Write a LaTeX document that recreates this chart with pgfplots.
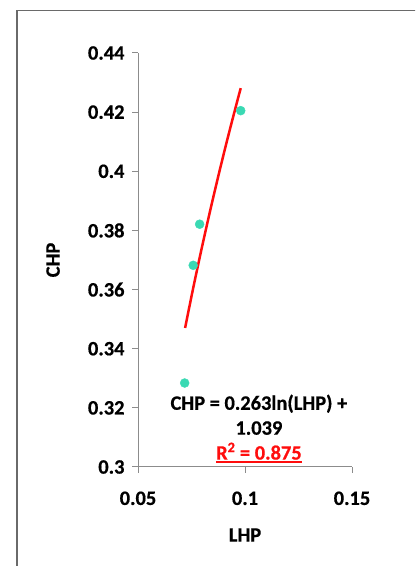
\documentclass[border=0pt]{standalone}
\usepackage{fontspec}
\setmainfont{Carlito}[BoldFeatures={FakeBold=0.6}]
\usepackage{pgfplots}
\pgfplotsset{compat=1.18}
\definecolor{framegray}{HTML}{6A6A6A}
\definecolor{axisgray}{HTML}{8C8C8C}
\definecolor{pointteal}{HTML}{3AD9B3}
\definecolor{trendred}{HTML}{FF0D0D}
\newcommand\chartfont{\fontsize{20.5}{25}\selectfont\bfseries}
\newcommand\redline[1]{\setbox0\hbox{#1}\rlap{\raisebox{-3.5bp}{\rule{\wd0}{1.6bp}}}\box0}
\begin{document}
\begin{tikzpicture}[x=1bp,y=1bp]
\useasboundingbox (0,0) rectangle (415,566);
\begin{scope}
  \clip (0,0) rectangle (415,566);
  \draw[framegray, line width=1.6bp] (17,-20) -- (17,555.5) -- (440,555.5);
\end{scope}
\begin{axis}[
  at={(138bp,99bp)}, anchor=south west,
  scale only axis, width=214bp, height=414bp,
  xmin=0.05, xmax=0.15, ymin=0.3, ymax=0.44,
  xtick={0.05,0.1,0.15},
  xticklabels={0.05,0.1,0.15},
  ytick={0.3,0.32,0.34,0.36,0.38,0.4,0.42,0.44},
  yticklabels={0.3,0.32,0.34,0.36,0.38,0.4,0.42,0.44},
  axis x line*=bottom, axis y line*=left,
  axis line style={axisgray, line width=1bp, -},
  tick style={axisgray, line width=1bp},
  tick align=outside, major tick length=6bp,
  tick label style={font=\chartfont, black},
  xticklabel style={yshift=-15bp},
  yticklabel style={xshift=-4bp},
  label style={font=\chartfont},
  xlabel={LHP}, ylabel={CHP},
  xlabel style={at={(axis description cs:0.5,-0.1643)}, anchor=center},
  ylabel style={at={(axis description cs:-0.397,0.5)}, anchor=center},
  clip=false,
]
\addplot[only marks, mark=*, mark size=4.5bp, color=pointteal]
  coordinates {(0.0718,0.3284) (0.0758,0.3682) (0.0788,0.3821) (0.0980,0.4205)};
\addplot[trendred, line width=2.5bp, smooth]
  coordinates {(0.072,0.34702) (0.076,0.36124) (0.080,0.37473) (0.084,0.38756)
               (0.088,0.39980) (0.092,0.41149) (0.096,0.42268) (0.098,0.42811)};
\node[font=\chartfont, align=center, anchor=center] at (axis cs:0.1065,0.3129)
  {CHP = 0.263ln(LHP) +\\ 1.039\\ \textcolor{trendred}{\redline{R\textsuperscript{2} = 0.875}}};
\end{axis}
\end{tikzpicture}
\end{document}
